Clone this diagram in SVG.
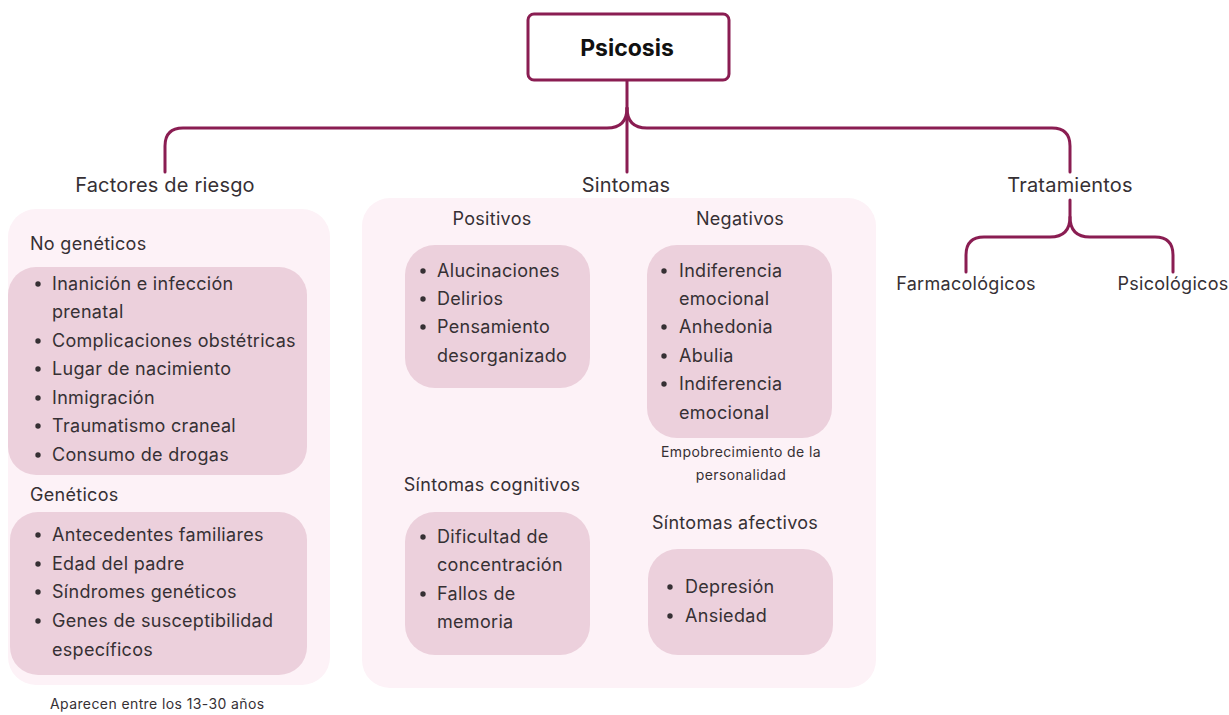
<svg xmlns="http://www.w3.org/2000/svg" width="1229" height="715" viewBox="0 0 1229 715">
<style>
text{font-family:Inter,"Open Sans","Liberation Sans",sans-serif;fill:#363034}
.h{font-size:20px;letter-spacing:0.2px}
.s{font-size:18px;letter-spacing:0.3px}
.b{font-size:18px;letter-spacing:0.3px}
.n{font-size:14px;letter-spacing:0.4px}
.panel{fill:#fdf2f7}
.box{fill:#ecd0dc}
.conn{fill:none;stroke:#8a1d52;stroke-width:3;stroke-linecap:round}
</style>
<rect width="1229" height="715" fill="#ffffff"/>
<g id="connectors">
<path class="conn" d="M627 80 V172"/>
<path class="conn" d="M627 108 Q627 128 607 128 H183 Q165 128 165 146 V172"/>
<path class="conn" d="M627 108 Q627 128 647 128 H1052 Q1070 128 1070 146 V172"/>
<path class="conn" d="M1070 200 V217 Q1070 237 1050 237 H984 Q966 237 966 255 V272"/>
<path class="conn" d="M1070 217 Q1070 237 1090 237 H1155 Q1173 237 1173 255 V272"/>
</g>
<g id="psicosis">
<rect x="528" y="14" width="201" height="66" rx="6" fill="#fff" stroke="#8a1d52" stroke-width="3"/>
<text x="627" y="56" text-anchor="middle" style="font-size:23px;font-weight:700;fill:#111">Psicosis</text>
</g>
<g id="factores">
<text class="h" x="165" y="192" text-anchor="middle">Factores de riesgo</text>
<rect class="panel" x="8" y="209" width="322" height="476" rx="28"/>
<text class="s" x="30" y="250">No genéticos</text>
<rect class="box" x="8" y="267" width="299" height="208" rx="28"/>
<circle cx="38" cy="284" r="2.7" fill="#363034"/>
<text class="b" x="52" y="290">Inanición e infección</text>
<text class="b" x="52" y="318">prenatal</text>
<circle cx="38" cy="341" r="2.7" fill="#363034"/>
<text class="b" x="52" y="347">Complicaciones obstétricas</text>
<circle cx="38" cy="369" r="2.7" fill="#363034"/>
<text class="b" x="52" y="375">Lugar de nacimiento</text>
<circle cx="38" cy="398" r="2.7" fill="#363034"/>
<text class="b" x="52" y="404">Inmigración</text>
<circle cx="38" cy="426" r="2.7" fill="#363034"/>
<text class="b" x="52" y="432">Traumatismo craneal</text>
<circle cx="38" cy="455" r="2.7" fill="#363034"/>
<text class="b" x="52" y="461">Consumo de drogas</text>
<text class="s" x="30" y="501">Genéticos</text>
<rect class="box" x="10" y="512" width="297" height="163" rx="28"/>
<circle cx="38" cy="535" r="2.7" fill="#363034"/>
<text class="b" x="52" y="541">Antecedentes familiares</text>
<circle cx="38" cy="564" r="2.7" fill="#363034"/>
<text class="b" x="52" y="570">Edad del padre</text>
<circle cx="38" cy="592" r="2.7" fill="#363034"/>
<text class="b" x="52" y="598">Síndromes genéticos</text>
<circle cx="38" cy="621" r="2.7" fill="#363034"/>
<text class="b" x="52" y="627">Genes de susceptibilidad</text>
<text class="b" x="52" y="656">específicos</text>
<text class="n" x="50" y="709">Aparecen entre los 13-30 años</text>
</g>
<g id="sintomas">
<text class="h" x="626" y="192" text-anchor="middle">Sintomas</text>
<rect class="panel" x="362" y="198" width="514" height="490" rx="28"/>
</g>
<g id="positivos">
<text class="s" x="492" y="225" text-anchor="middle">Positivos</text>
<rect class="box" x="405" y="245" width="185" height="143" rx="30"/>
<circle cx="423" cy="271" r="2.7" fill="#363034"/>
<text class="b" x="437" y="277">Alucinaciones</text>
<circle cx="423" cy="299" r="2.7" fill="#363034"/>
<text class="b" x="437" y="305">Delirios</text>
<circle cx="423" cy="327" r="2.7" fill="#363034"/>
<text class="b" x="437" y="333">Pensamiento</text>
<text class="b" x="437" y="362">desorganizado</text>
</g>
<g id="negativos">
<text class="s" x="740" y="225" text-anchor="middle">Negativos</text>
<rect class="box" x="647" y="245" width="185" height="193" rx="30"/>
<circle cx="664" cy="271" r="2.7" fill="#363034"/>
<text class="b" x="679" y="277">Indiferencia</text>
<text class="b" x="679" y="305">emocional</text>
<circle cx="664" cy="327" r="2.7" fill="#363034"/>
<text class="b" x="679" y="333">Anhedonia</text>
<circle cx="664" cy="356" r="2.7" fill="#363034"/>
<text class="b" x="679" y="362">Abulia</text>
<circle cx="664" cy="384" r="2.7" fill="#363034"/>
<text class="b" x="679" y="390">Indiferencia</text>
<text class="b" x="679" y="419">emocional</text>
<text class="n" x="741" y="457" text-anchor="middle">Empobrecimiento de la</text>
<text class="n" x="741" y="480" text-anchor="middle">personalidad</text>
</g>
<g id="cognitivos">
<text class="s" x="492" y="491" text-anchor="middle">Síntomas cognitivos</text>
<rect class="box" x="405" y="512" width="185" height="143" rx="30"/>
<circle cx="423" cy="537" r="2.7" fill="#363034"/>
<text class="b" x="437" y="543">Dificultad de</text>
<text class="b" x="437" y="571">concentración</text>
<circle cx="423" cy="594" r="2.7" fill="#363034"/>
<text class="b" x="437" y="600">Fallos de</text>
<text class="b" x="437" y="628">memoria</text>
</g>
<g id="afectivos">
<text class="s" x="735" y="529" text-anchor="middle">Síntomas afectivos</text>
<rect class="box" x="648" y="549" width="185" height="106" rx="30"/>
<circle cx="670" cy="587" r="2.7" fill="#363034"/>
<text class="b" x="685" y="593">Depresión</text>
<circle cx="670" cy="616" r="2.7" fill="#363034"/>
<text class="b" x="685" y="622">Ansiedad</text>
</g>
<g id="tratamientos">
<text class="h" x="1070" y="192" text-anchor="middle">Tratamientos</text>
</g>
<g id="farmacologicos">
<text class="s" x="966" y="290" text-anchor="middle">Farmacológicos</text>
</g>
<g id="psicologicos">
<text class="s" x="1173" y="290" text-anchor="middle">Psicológicos</text>
</g>
</svg>
